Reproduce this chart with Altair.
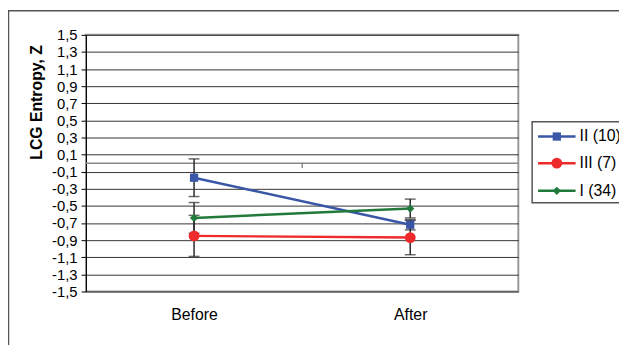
import altair as alt
import pandas as pd

# ---------------- data ----------------
phases = ["Before", "After"]
groups = ["II (10)", "III (7)", "I (34)"]

ii_mean = [-0.17, -0.72]
ii_err = [0.22, 0.06]
iii_mean = [-0.85, -0.87]
iii_err = [0.24, 0.20]
i_mean = [-0.64, -0.53]
i_err = [0.18, 0.11]

colors = ["#3A57A7", "#EE2A2A", "#217A3C"]
shapes = ["square", "circle", "diamond"]
sizes = [70, 120, 70]

y_ticks = [round(-1.5 + 0.2 * k, 1) for k in range(16)]

series = [(ii_mean, ii_err), (iii_mean, iii_err), (i_mean, i_err)]
frames = []
for g, (m, e) in zip(groups, series):
    frames.append(pd.DataFrame({
        "group": g,
        "phase": phases,
        "mean": m,
        "lo": [a - b for a, b in zip(m, e)],
        "hi": [a + b for a, b in zip(m, e)],
    }))
df = pd.concat(frames, ignore_index=True)

FONT = "Liberation Sans"
W, H = 438, 260

yscale = alt.Scale(domain=[-1.5, 1.5], nice=False, zero=False)
yaxis = alt.Axis(
    values=y_ticks,
    labelExpr="replace(replace(format(datum.value, '.1f'), '.', ','), '\u2212', '-')",
    grid=True, gridColor="#333333", gridWidth=1,
    domainColor="#000", domainWidth=1,
    tickColor="#000", tickSize=5, tickWidth=1,
    labelFontSize=15, labelPadding=4, labelColor="#000", labelFont=FONT,
    title="LCG Entropy, Z", titleFontSize=16, titleFontWeight="bold",
    titleFont=FONT, titleColor="#000",
    titleX=-45, titleY=68, titleAngle=270, titleAlign="center",
    titleBaseline="alphabetic",
)
xaxis = alt.Axis(
    title=None, domain=False, ticks=False, grid=False, labelAngle=0,
    labelFontSize=16, labelFont=FONT, labelColor="#000", labelPadding=15,
)


def X():
    return alt.X("phase:N", sort=phases,
                 scale=alt.Scale(type="point", padding=0.5), axis=xaxis)


def Y(field):
    return alt.Y(field, type="quantitative", scale=yscale, axis=yaxis)


layers = []

# zero line (category axis crossing at 0)
zero_df = pd.DataFrame({"z": [0.0]})
layers.append(alt.Chart(zero_df).mark_rule(color="#8a8a8a", strokeWidth=1.5)
              .encode(y=Y("z")))
layers.append(alt.Chart(zero_df).mark_rule(color="#555", strokeWidth=1)
              .encode(x=alt.value(W / 2), y=Y("z"), y2=alt.value(H / 2 + 5)))

# error bars
eb = alt.Chart(df)
layers.append(eb.mark_rule(color="#2a2a2a", strokeWidth=1.5)
              .encode(x=X(), y=Y("lo"), y2="hi"))
layers.append(eb.mark_tick(color="#2a2a2a", size=11, thickness=1.5)
              .encode(x=X(), y=Y("lo")))
layers.append(eb.mark_tick(color="#2a2a2a", size=11, thickness=1.5)
              .encode(x=X(), y=Y("hi")))

# series lines + markers
for g, c, s, sz in zip(groups, colors, shapes, sizes):
    sub = alt.Chart(df[df.group == g])
    layers.append(sub.mark_line(color=c, strokeWidth=2.5)
                  .encode(x=X(), y=Y("mean")))
    layers.append(sub.mark_point(color=c, filled=True, opacity=1, shape=s, size=sz)
                  .encode(x=X(), y=Y("mean")))

# outer chart frame (drawn around the page area)
layers.append(alt.Chart(zero_df).mark_rect(fill=None, stroke="#555", strokeWidth=1.5)
              .encode(x=alt.value(-78.5), x2=alt.value(800),
                      y=alt.value(-24.5), y2=alt.value(600)))

# legend box and entries
lx, ltop, lbot = 452, 88, 170
layers.append(alt.Chart(zero_df).mark_rect(fill="white", stroke="#555", strokeWidth=1.5)
              .encode(x=alt.value(lx), x2=alt.value(800),
                      y=alt.value(ltop), y2=alt.value(lbot)))
row_y = [103, 130, 158]
for g, c, s, sz, ry in zip(groups, colors, shapes, sizes, row_y):
    ldf = pd.DataFrame({"label": [g]})
    lc = alt.Chart(ldf)
    layers.append(lc.mark_rule(color=c, strokeWidth=2.5)
                  .encode(x=alt.value(lx + 6), x2=alt.value(lx + 44), y=alt.value(ry)))
    layers.append(lc.mark_point(color=c, filled=True, opacity=1, shape=s, size=sz)
                  .encode(x=alt.value(lx + 25), y=alt.value(ry)))
    layers.append(lc.mark_text(align="left", baseline="middle", fontSize=16,
                               font=FONT, color="#000")
                  .encode(x=alt.value(lx + 48), y=alt.value(ry), text="label:N"))

chart = (
    alt.layer(*layers)
    .properties(
        width=W, height=H,
        autosize=alt.AutoSizeParams(type="none"),
        padding={"left": 79, "top": 25, "right": 619 - 79 - W, "bottom": 337 - 25 - H},
        background="white",
    )
    .configure_view(stroke="#9a9a9a", strokeWidth=2)
)

chart.save("out.html", embed_options={"renderer": "svg", "actions": False})
